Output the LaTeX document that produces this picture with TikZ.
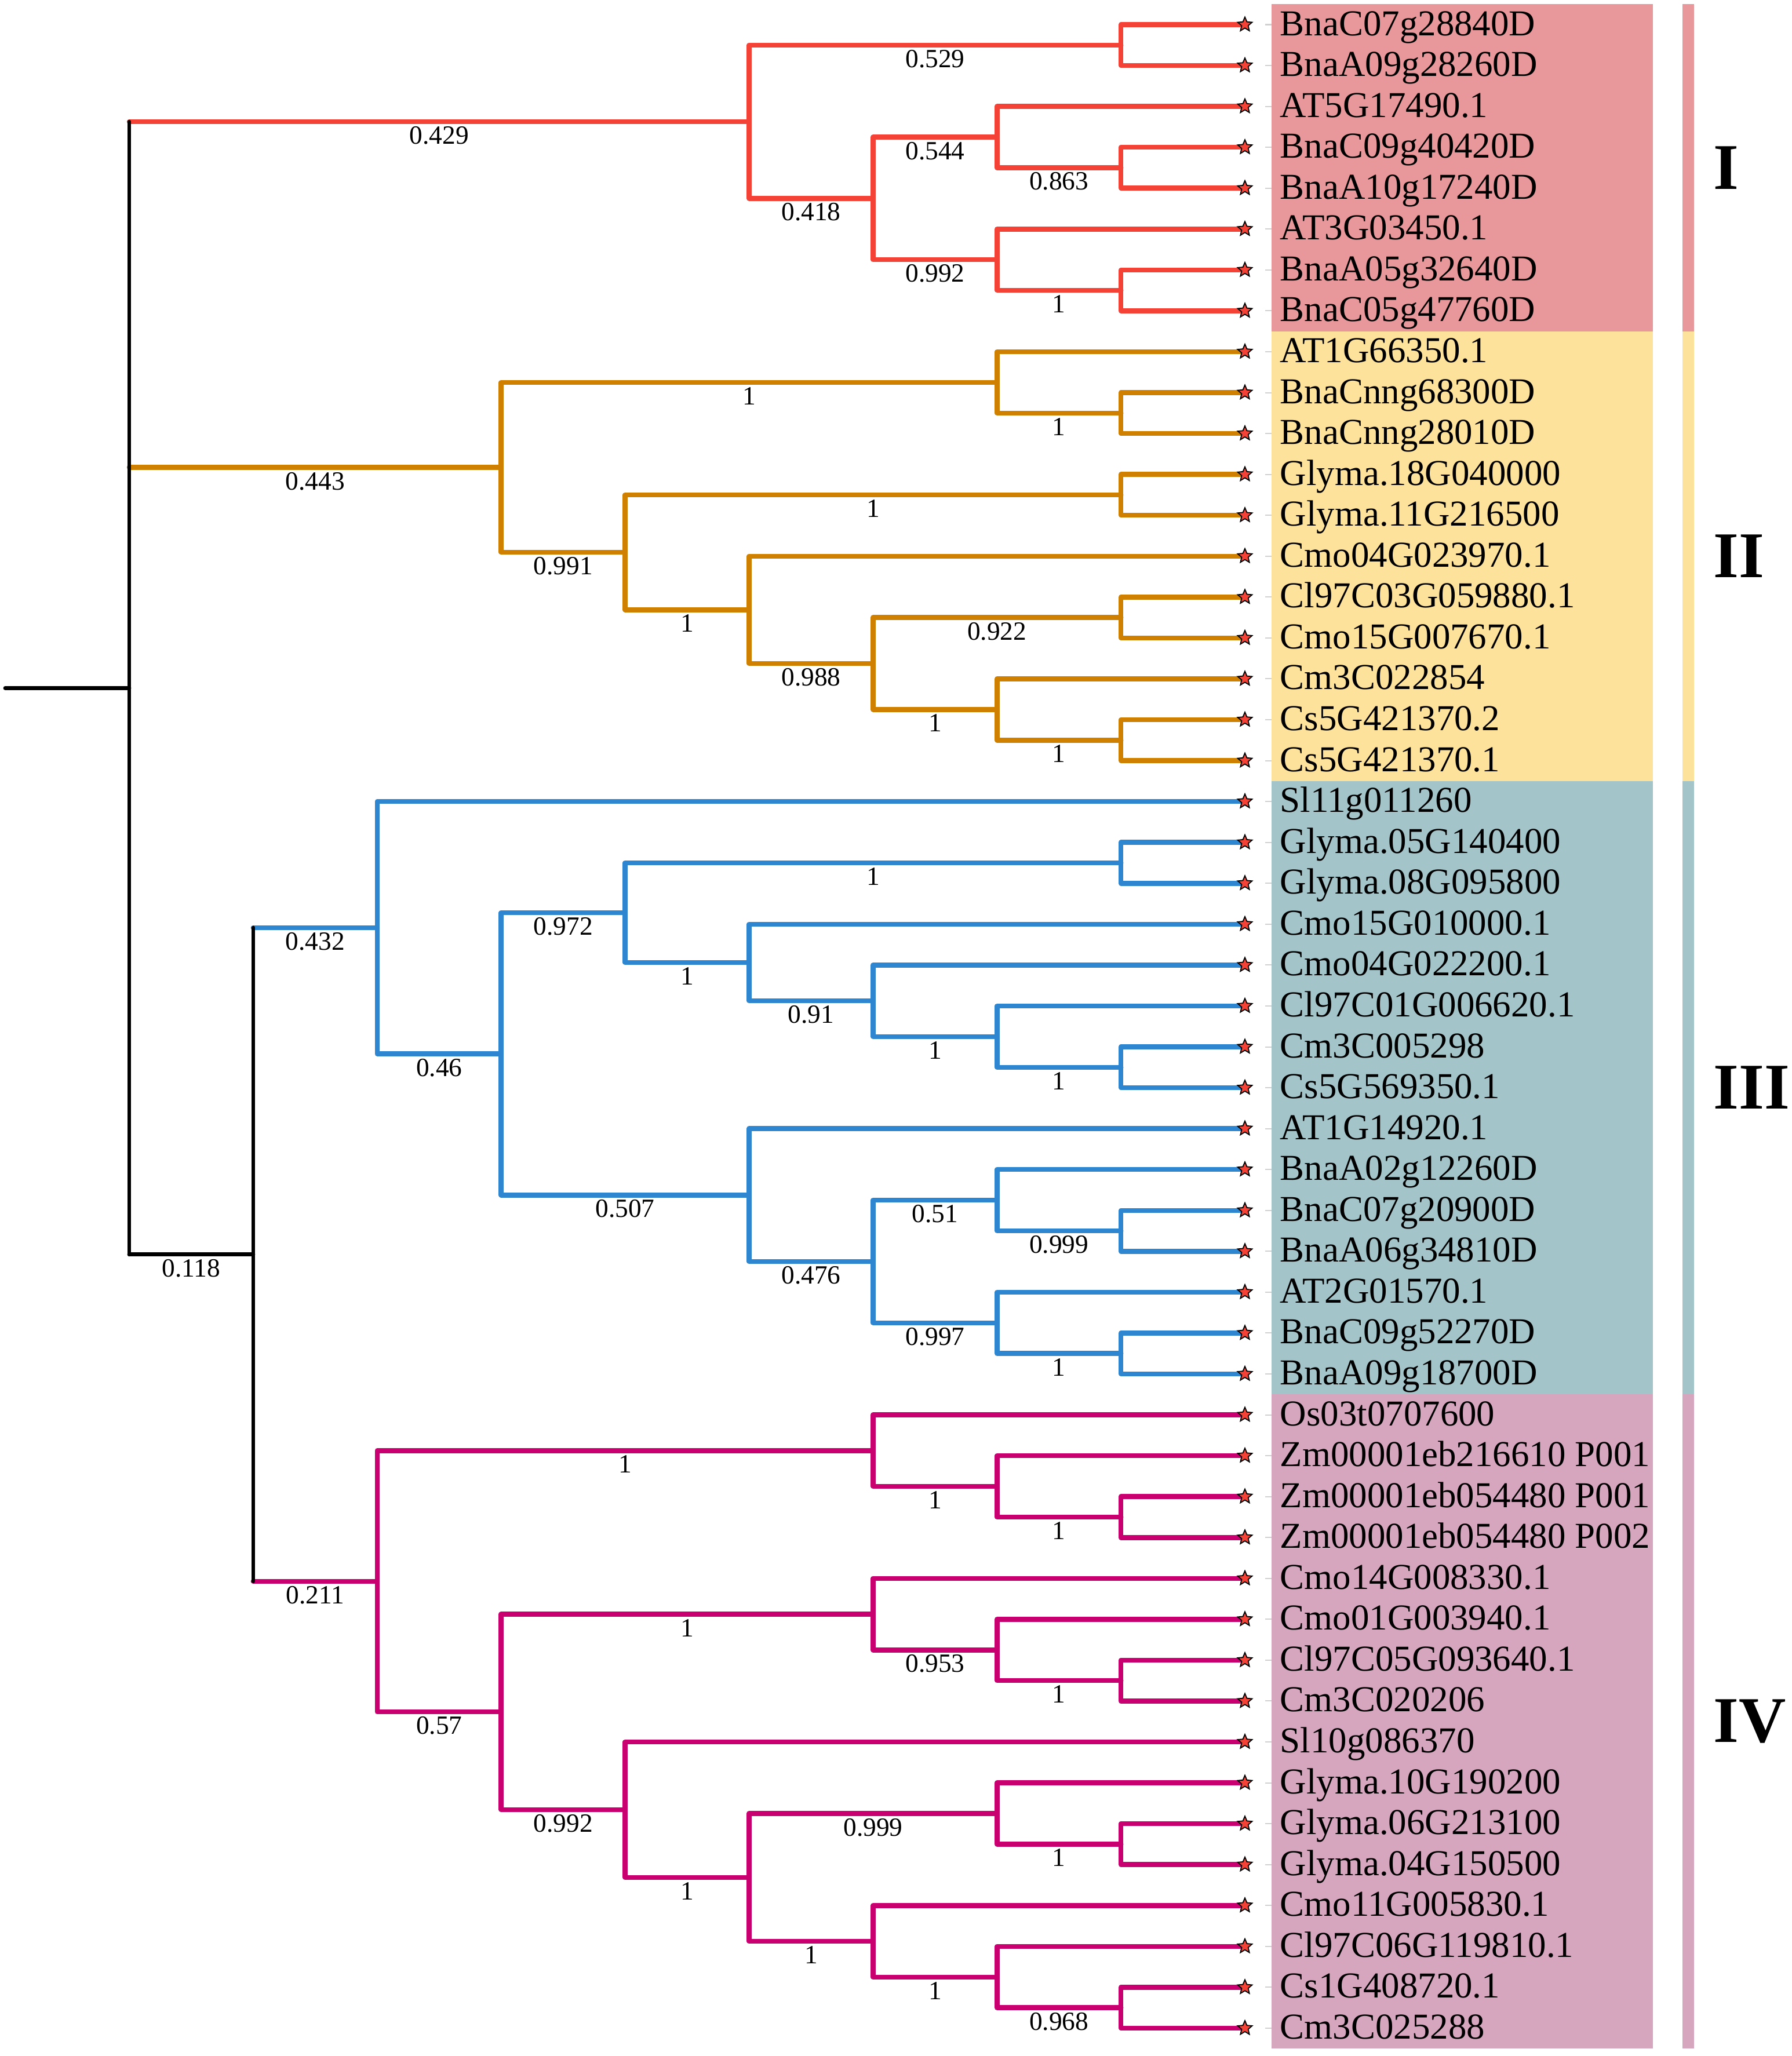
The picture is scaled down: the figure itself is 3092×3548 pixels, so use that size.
\documentclass[tikz,border=0pt]{standalone}
\usepackage{fontspec}
\setmainfont{Liberation Serif}
\usetikzlibrary{calc,shapes.geometric}
\definecolor{cI}{HTML}{F44336}
\definecolor{cII}{HTML}{CF8000}
\definecolor{cIII}{HTML}{2E86D1}
\definecolor{cIV}{HTML}{C9006F}
\definecolor{bI}{HTML}{E8989A}
\definecolor{bII}{HTML}{FCE29A}
\definecolor{bIII}{HTML}{A3C4C9}
\definecolor{bIV}{HTML}{D6A5BE}
\definecolor{starred}{HTML}{F44336}
\newcommand\inode[4]{\path ($(#3)!0.5!(#4)$) coordinate (#1m); \coordinate (#1) at (#2 |- #1m);}
\newcommand\cl[4]{\draw[branch=#1] (#3) -| (#2) |- (#4);}
\newcommand\bl[3]{\node[blab] (lab-#2) at ($(#1 |- #2)!0.5!(#2)+(0,38.5)$) {#3};}
\begin{document}
\begin{tikzpicture}[x=0.01cm,y=-0.01cm,
  branch/.style={line width=0.085cm, line cap=round, line join=round, draw=#1},
  blk/.style={line width=0.068cm, line cap=round, line join=round, draw=black},
  leafstar/.style={star, star points=5, star point ratio=2.2, minimum size=0.26cm, inner sep=0pt, fill=starred, draw=black, line width=0.018cm},
  leaflab/.style={anchor=base west, font=\fontsize{17.9}{20}\selectfont, inner sep=0pt},
  blab/.style={anchor=base, font=\fontsize{12.9}{14}\selectfont, inner sep=0pt},
  clab/.style={anchor=west, font=\fontsize{32}{36}\selectfont\bfseries, inner sep=0pt},
  leaftick/.style={draw=black!18, line width=0.02cm}
]
\useasboundingbox (0,0) rectangle (3092,3548);
\foreach \k in {0,...,9} {\coordinate (X\k) at ({223+213.9*\k},0);}
\foreach \i in {1,...,50} {\coordinate (l\i) at (2148,{42.5+70.56*(\i-1)});}
% clade boxes
\fill[bI] ($(l1)+(46,-35.28)$) rectangle ($(l8)+(704,35.28)$);
\fill[bII] ($(l9)+(46,-35.28)$) rectangle ($(l19)+(704,35.28)$);
\fill[bIII] ($(l20)+(46,-35.28)$) rectangle ($(l34)+(704,35.28)$);
\fill[bIV] ($(l35)+(46,-35.28)$) rectangle ($(l50)+(704,35.28)$);
\fill[bI] ($(l1)+(755,-35.28)$) rectangle ($(l8)+(775,35.28)$);
\fill[bII] ($(l9)+(755,-35.28)$) rectangle ($(l19)+(775,35.28)$);
\fill[bIII] ($(l20)+(755,-35.28)$) rectangle ($(l34)+(775,35.28)$);
\fill[bIV] ($(l35)+(755,-35.28)$) rectangle ($(l50)+(775,35.28)$);
\node[clab] (rI) at ($(l1)!0.5!(l8)+(808,0)$) {I};
\node[clab] (rII) at ($(l9)!0.5!(l19)+(808,0)$) {II};
\node[clab] (rIII) at ($(l20)!0.5!(l34)+(808,0)$) {III};
\node[clab] (rIV) at ($(l35)!0.5!(l50)+(808,0)$) {IV};
% clade I
\inode{a12}{X8}{l1}{l2}
\inode{c45}{X8}{l4}{l5}
\inode{nC}{X7}{l3}{c45}
\inode{c78}{X8}{l7}{l8}
\inode{nD}{X7}{l6}{c78}
\inode{nB}{X6}{nC}{nD}
\inode{nA}{X5}{a12}{nB}
% clade II
\inode{c1011}{X8}{l10}{l11}
\inode{nF}{X7}{l9}{c1011}
\inode{c1213}{X8}{l12}{l13}
\inode{c1516}{X8}{l15}{l16}
\inode{c1819}{X8}{l18}{l19}
\inode{nJ}{X7}{l17}{c1819}
\inode{nI}{X6}{c1516}{nJ}
\inode{nH}{X5}{l14}{nI}
\inode{nG}{X4}{c1213}{nH}
\inode{nE}{X3}{nF}{nG}
% clade III
\inode{c2122}{X8}{l21}{l22}
\inode{c2627}{X8}{l26}{l27}
\inode{nR}{X7}{l25}{c2627}
\inode{nQ}{X6}{l24}{nR}
\inode{nO}{X5}{l23}{nQ}
\inode{nN}{X4}{c2122}{nO}
\inode{c3031}{X8}{l30}{l31}
\inode{nT}{X7}{l29}{c3031}
\inode{c3334}{X8}{l33}{l34}
\inode{nU}{X7}{l32}{c3334}
\inode{nS}{X6}{nT}{nU}
\inode{nP}{X5}{l28}{nS}
\inode{nM}{X3}{nN}{nP}
\inode{n3}{X2}{l20}{nM}
% clade IV
\inode{c3738}{X8}{l37}{l38}
\inode{nW}{X7}{l36}{c3738}
\inode{nV}{X6}{l35}{nW}
\inode{c4142}{X8}{l41}{l42}
\inode{nY2}{X7}{l40}{c4142}
\inode{nY}{X6}{l39}{nY2}
\inode{c4546}{X8}{l45}{l46}
\inode{nBB}{X7}{l44}{c4546}
\inode{c4950}{X8}{l49}{l50}
\inode{nDD}{X7}{l48}{c4950}
\inode{nCC}{X6}{l47}{nDD}
\inode{nAA}{X5}{nBB}{nCC}
\inode{nZ}{X4}{l43}{nAA}
\inode{nX}{X3}{nY}{nZ}
\inode{n4}{X2}{nV}{nX}
% backbone
\inode{nK}{X1}{n3}{n4}
\inode{root}{X0}{nA}{nK}
\coordinate (stub) at (9,0 |- root);
% branches clade I
\cl{cI}{a12}{l1}{l2}
\cl{cI}{c45}{l4}{l5}
\cl{cI}{nC}{l3}{c45}
\cl{cI}{c78}{l7}{l8}
\cl{cI}{nD}{l6}{c78}
\cl{cI}{nB}{nC}{nD}
\cl{cI}{nA}{a12}{nB}
% clade II
\cl{cII}{c1011}{l10}{l11}
\cl{cII}{nF}{l9}{c1011}
\cl{cII}{c1213}{l12}{l13}
\cl{cII}{c1516}{l15}{l16}
\cl{cII}{c1819}{l18}{l19}
\cl{cII}{nJ}{l17}{c1819}
\cl{cII}{nI}{c1516}{nJ}
\cl{cII}{nH}{l14}{nI}
\cl{cII}{nG}{c1213}{nH}
\cl{cII}{nE}{nF}{nG}
% clade III
\cl{cIII}{c2122}{l21}{l22}
\cl{cIII}{c2627}{l26}{l27}
\cl{cIII}{nR}{l25}{c2627}
\cl{cIII}{nQ}{l24}{nR}
\cl{cIII}{nO}{l23}{nQ}
\cl{cIII}{nN}{c2122}{nO}
\cl{cIII}{c3031}{l30}{l31}
\cl{cIII}{nT}{l29}{c3031}
\cl{cIII}{c3334}{l33}{l34}
\cl{cIII}{nU}{l32}{c3334}
\cl{cIII}{nS}{nT}{nU}
\cl{cIII}{nP}{l28}{nS}
\cl{cIII}{nM}{nN}{nP}
\cl{cIII}{n3}{l20}{nM}
% clade IV
\cl{cIV}{c3738}{l37}{l38}
\cl{cIV}{nW}{l36}{c3738}
\cl{cIV}{nV}{l35}{nW}
\cl{cIV}{c4142}{l41}{l42}
\cl{cIV}{nY2}{l40}{c4142}
\cl{cIV}{nY}{l39}{nY2}
\cl{cIV}{c4546}{l45}{l46}
\cl{cIV}{nBB}{l44}{c4546}
\cl{cIV}{c4950}{l49}{l50}
\cl{cIV}{nDD}{l48}{c4950}
\cl{cIV}{nCC}{l47}{nDD}
\cl{cIV}{nAA}{nBB}{nCC}
\cl{cIV}{nZ}{l43}{nAA}
\cl{cIV}{nX}{nY}{nZ}
\cl{cIV}{n4}{nV}{nX}
% backbone
\draw[branch=cI] (root |- nA) -- (nA);
\draw[branch=cII] (root |- nE) -- (nE);
\draw[branch=cIII] (nK |- n3) -- (n3);
\draw[branch=cIV] (nK |- n4) -- (n4);
\draw[blk] (root |- nK) -- (nK);
\draw[blk] (stub) -- (root);
\draw[blk] (root |- nA) -- (root |- nK);
\draw[blk] (nK |- n3) -- (nK |- n4);
% branch labels
\bl{nA}{a12}{0.529}
\bl{nC}{c45}{0.863}
\bl{nB}{nC}{0.544}
\bl{nD}{c78}{1}
\bl{nB}{nD}{0.992}
\bl{nA}{nB}{0.418}
\bl{root}{nA}{0.429}
\bl{nF}{c1011}{1}
\bl{nE}{nF}{1}
\bl{nG}{c1213}{1}
\bl{nI}{c1516}{0.922}
\bl{nJ}{c1819}{1}
\bl{nI}{nJ}{1}
\bl{nH}{nI}{0.988}
\bl{nG}{nH}{1}
\bl{nE}{nG}{0.991}
\bl{root}{nE}{0.443}
\bl{nN}{c2122}{1}
\bl{nR}{c2627}{1}
\bl{nQ}{nR}{1}
\bl{nO}{nQ}{0.91}
\bl{nN}{nO}{1}
\bl{nM}{nN}{0.972}
\bl{nT}{c3031}{0.999}
\bl{nS}{nT}{0.51}
\bl{nU}{c3334}{1}
\bl{nS}{nU}{0.997}
\bl{nP}{nS}{0.476}
\bl{nM}{nP}{0.507}
\bl{n3}{nM}{0.46}
\bl{nK}{n3}{0.432}
\bl{nW}{c3738}{1}
\bl{nV}{nW}{1}
\bl{n4}{nV}{1}
\bl{nY2}{c4142}{1}
\bl{nY}{nY2}{0.953}
\bl{nX}{nY}{1}
\bl{nBB}{c4546}{1}
\bl{nAA}{nBB}{0.999}
\bl{nDD}{c4950}{0.968}
\bl{nCC}{nDD}{1}
\bl{nAA}{nCC}{1}
\bl{nZ}{nAA}{1}
\bl{nX}{nZ}{0.992}
\bl{n4}{nX}{0.57}
\bl{nK}{n4}{0.211}
\bl{root}{nK}{0.118}
% leaves
\foreach \i/\t in {1/BnaC07g28840D, 2/BnaA09g28260D, 3/AT5G17490.1, 4/BnaC09g40420D, 5/BnaA10g17240D, 6/AT3G03450.1, 7/BnaA05g32640D, 8/BnaC05g47760D,
 9/AT1G66350.1, 10/BnaCnng68300D, 11/BnaCnng28010D, 12/Glyma.18G040000, 13/Glyma.11G216500, 14/Cmo04G023970.1, 15/Cl97C03G059880.1, 16/Cmo15G007670.1, 17/Cm3C022854, 18/Cs5G421370.2, 19/Cs5G421370.1,
 20/Sl11g011260, 21/Glyma.05G140400, 22/Glyma.08G095800, 23/Cmo15G010000.1, 24/Cmo04G022200.1, 25/Cl97C01G006620.1, 26/Cm3C005298, 27/Cs5G569350.1, 28/AT1G14920.1, 29/BnaA02g12260D, 30/BnaC07g20900D, 31/BnaA06g34810D, 32/AT2G01570.1, 33/BnaC09g52270D, 34/BnaA09g18700D,
 35/Os03t0707600, 36/Zm00001eb216610 P001, 37/Zm00001eb054480 P001, 38/Zm00001eb054480 P002, 39/Cmo14G008330.1, 40/Cmo01G003940.1, 41/Cl97C05G093640.1, 42/Cm3C020206, 43/Sl10g086370, 44/Glyma.10G190200, 45/Glyma.06G213100, 46/Glyma.04G150500, 47/Cmo11G005830.1, 48/Cl97C06G119810.1, 49/Cs1G408720.1, 50/Cm3C025288} {
  \draw[leaftick] ($(l\i)+(35,0)$) -- ($(l\i)+(46,0)$);
  \node[leafstar] (s\i) at (l\i) {};
  \node[leaflab] (t\i) at ($(l\i)+(60,18.5)$) {\t};
}
\end{tikzpicture}
\end{document}
